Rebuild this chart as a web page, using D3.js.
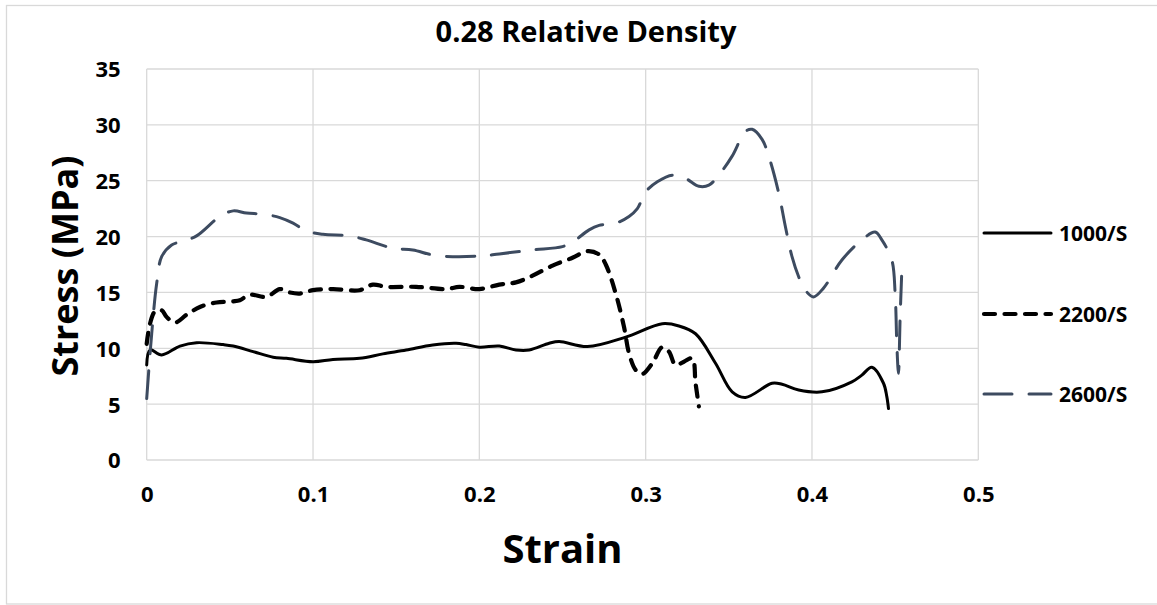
<!DOCTYPE html>
<html>
<head>
<meta charset="utf-8">
<script src="https://cdn.jsdelivr.net/npm/d3@7"></script>
<style>
  html, body { margin: 0; padding: 0; background: #fff; }
  svg { display: block; font-family: "Open Sans", "Noto Sans", sans-serif; }
</style>
</head>
<body>
<svg id="chart" width="1157" height="605"></svg>
<script>
// Stress–strain curves at three strain rates
const seriesNames = ["1000/S", "2200/S", "2600/S"];

const strain1000 = [0, 0.002, 0.009, 0.02, 0.03, 0.046, 0.052, 0.064, 0.076, 0.084, 0.1, 0.112, 0.128, 0.142, 0.156, 0.172, 0.186, 0.192, 0.2, 0.212, 0.222, 0.23, 0.242, 0.248, 0.265, 0.288, 0.31, 0.32, 0.33, 0.342, 0.352, 0.36, 0.376, 0.382, 0.392, 0.406, 0.424, 0.43, 0.436, 0.443, 0.445, 0.446];
const stress1000 = [8.5, 9.85, 9.4, 10.2, 10.5, 10.33, 10.2, 9.7, 9.2, 9.1, 8.8, 9.0, 9.1, 9.5, 9.85, 10.3, 10.45, 10.33, 10.1, 10.2, 9.85, 9.85, 10.45, 10.6, 10.15, 11.0, 12.2, 12.0, 11.3, 8.66, 6.1, 5.6, 6.87, 6.78, 6.27, 6.1, 7.0, 7.6, 8.3, 6.87, 5.67, 4.6];

const strain2200 = [0, 0.002, 0.005, 0.009, 0.012, 0.017, 0.024, 0.032, 0.042, 0.052, 0.056, 0.062, 0.072, 0.08, 0.086, 0.092, 0.1, 0.112, 0.128, 0.136, 0.144, 0.162, 0.18, 0.188, 0.2, 0.212, 0.222, 0.232, 0.244, 0.256, 0.265, 0.272, 0.276, 0.282, 0.287, 0.29, 0.294, 0.298, 0.304, 0.31, 0.314, 0.318, 0.323, 0.328, 0.33, 0.332];
const stress2200 = [10.4, 12.2, 13.3, 13.4, 12.8, 12.3, 13.0, 13.7, 14.1, 14.2, 14.3, 14.8, 14.6, 15.3, 15.0, 14.9, 15.2, 15.3, 15.2, 15.7, 15.5, 15.5, 15.3, 15.5, 15.3, 15.7, 15.9, 16.5, 17.4, 18.1, 18.7, 18.4, 17.5, 14.9, 11.9, 9.55, 8.06, 7.7, 8.66, 10.1, 9.7, 8.5, 8.8, 9.1, 6.87, 4.8];

const strain2600 = [0, 0.003, 0.006, 0.009, 0.015, 0.021, 0.03, 0.044, 0.052, 0.06, 0.07, 0.08, 0.088, 0.096, 0.106, 0.122, 0.132, 0.148, 0.16, 0.174, 0.2, 0.212, 0.232, 0.25, 0.256, 0.266, 0.272, 0.282, 0.29, 0.295, 0.3, 0.307, 0.316, 0.324, 0.332, 0.338, 0.345, 0.352, 0.36, 0.364, 0.37, 0.374, 0.38, 0.384, 0.388, 0.392, 0.396, 0.401, 0.407, 0.418, 0.43, 0.438, 0.442, 0.448, 0.45, 0.451, 0.452, 0.453, 0.454];
const stress2600 = [5.5, 11.3, 15.8, 18.2, 19.25, 19.55, 20.06, 21.8, 22.3, 22.1, 22.0, 21.7, 21.2, 20.5, 20.2, 20.06, 19.7, 18.96, 18.8, 18.3, 18.25, 18.45, 18.8, 19.1, 19.5, 20.6, 21.0, 21.2, 21.8, 22.5, 24.0, 24.9, 25.5, 25.2, 24.5, 24.6, 25.7, 27.2, 29.4, 29.6, 28.7, 27.2, 23.9, 20.9, 18.2, 16.4, 15.2, 14.6, 15.4, 17.9, 19.7, 20.4, 19.7, 17.9, 14.9, 10.4, 7.76, 12.8, 16.9];

const xTicks = [0, 0.1, 0.2, 0.3, 0.4, 0.5];
const yTicks = [0, 5, 10, 15, 20, 25, 30, 35];

const svg = d3.select("#chart");
const plot = { left: 146.7, right: 978.3, top: 69, bottom: 460 };

// outer chart frame
svg.append("rect")
  .attr("x", 6.5).attr("y", 5.5)
  .attr("width", 1170).attr("height", 598.5)
  .attr("fill", "#fff").attr("stroke", "#d9d9d9").attr("stroke-width", 1.3);

const x = d3.scaleLinear().domain([0, 0.5]).range([plot.left, plot.right]);
const y = d3.scaleLinear().domain([0, 35]).range([plot.bottom, plot.top]);

// gridlines
const grid = svg.append("g").attr("stroke", "#d9d9d9").attr("stroke-width", 1.3);
grid.selectAll("line.h").data(yTicks).join("line")
  .attr("x1", plot.left).attr("x2", plot.right)
  .attr("y1", d => y(d)).attr("y2", d => y(d));
grid.selectAll("line.v").data(xTicks).join("line")
  .attr("y1", plot.top).attr("y2", plot.bottom)
  .attr("x1", d => x(d)).attr("x2", d => x(d));

// tick labels
const yAxis = d3.axisLeft(y).tickValues(yTicks).tickSize(0).tickPadding(0).tickFormat(d3.format("d"));
const gy = svg.append("g").attr("transform", `translate(${plot.left - 26},0)`).call(yAxis);
gy.select(".domain").remove();
gy.selectAll("text")
  .attr("font-family", "'Open Sans', sans-serif").attr("font-size", 22).attr("font-weight", 700)
  .attr("fill", "#000").attr("dy", "0.36em");

const xAxis = d3.axisBottom(x).tickValues(xTicks).tickSize(0).tickPadding(0).tickFormat(d => d === 0 ? "0" : d3.format(".1f")(d));
const gx = svg.append("g").attr("transform", `translate(0,${plot.bottom + 27})`).call(xAxis);
gx.select(".domain").remove();
gx.selectAll("text")
  .attr("font-family", "'Open Sans', sans-serif").attr("font-size", 22).attr("font-weight", 700)
  .attr("fill", "#000").attr("dy", "0.7em");

// series
const series = [
  { name: seriesNames[0], xs: strain1000, ys: stress1000, color: "#000", width: 3, dash: null, cap: "round" },
  { name: seriesNames[1], xs: strain2200, ys: stress2200, color: "#000", width: 4.2, dash: "11,9.5", cap: "round" },
  { name: seriesNames[2], xs: strain2600, ys: stress2600, color: "#3d4b60", width: 3, dash: "28,17", cap: "round" }
];

const line = d3.line()
  .x(d => x(d[0])).y(d => y(d[1]))
  .curve(d3.curveCatmullRom.alpha(0.5));

series.forEach(s => {
  const pts = s.xs.map((v, i) => [v, s.ys[i]]);
  svg.append("path")
    .datum(pts)
    .attr("d", line)
    .attr("fill", "none")
    .attr("stroke", s.color)
    .attr("stroke-width", s.width)
    .attr("stroke-linecap", s.cap)
    .attr("stroke-linejoin", "round")
    .attr("stroke-dasharray", s.dash);
});

// legend
const legendY = [233, 314, 394];
const lg = svg.append("g");
series.forEach((s, i) => {
  lg.append("line")
    .attr("x1", 984).attr("x2", 1051)
    .attr("y1", legendY[i]).attr("y2", legendY[i])
    .attr("stroke", s.color).attr("stroke-width", s.width)
    .attr("stroke-linecap", s.cap)
    .attr("stroke-dasharray", s.dash);
  lg.append("text")
    .attr("x", 1059).attr("y", legendY[i] + 7.5)
    .attr("font-size", 21).attr("font-weight", 700).attr("fill", "#000")
    .text(s.name);
});

// titles
svg.append("text")
  .attr("x", 586).attr("y", 42)
  .attr("text-anchor", "middle")
  .attr("font-size", 29).attr("font-weight", 700).attr("fill", "#000")
  .text("0.28 Relative Density");

svg.append("text")
  .attr("x", (plot.left + plot.right) / 2).attr("y", 563)
  .attr("text-anchor", "middle")
  .attr("font-size", 40).attr("font-weight", 700).attr("fill", "#000")
  .text("Strain");

svg.append("text")
  .attr("transform", `translate(78,266) rotate(-90)`)
  .attr("text-anchor", "middle")
  .attr("font-size", 36).attr("font-weight", 700).attr("fill", "#000")
  .text("Stress (MPa)");
</script>
</body>
</html>
